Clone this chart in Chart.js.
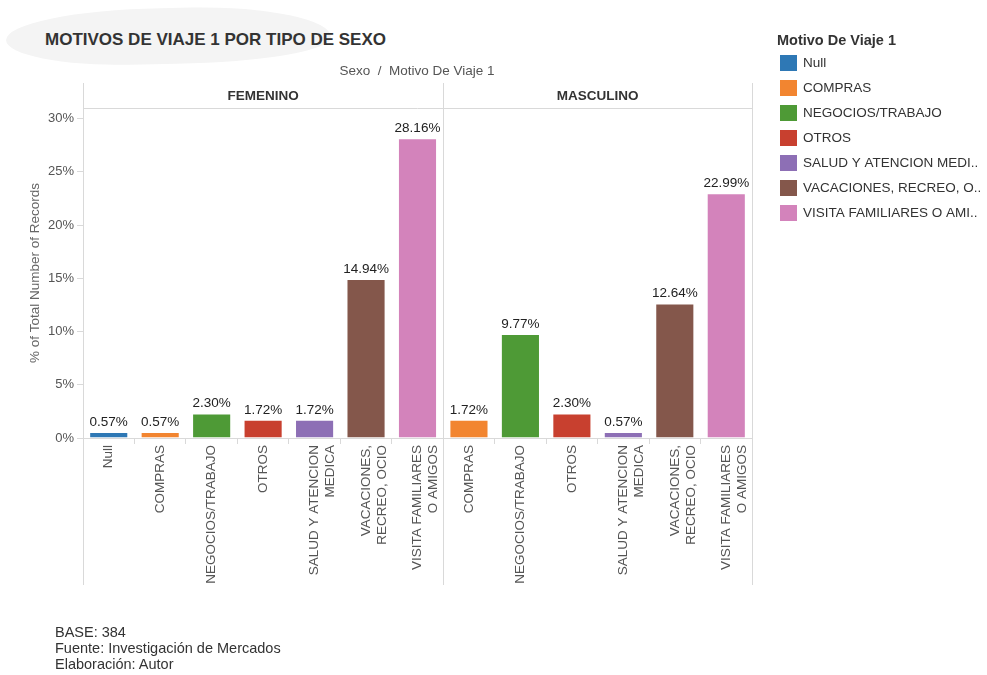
<!DOCTYPE html>
<html>
<head>
<meta charset="utf-8">
<script src="https://cdn.jsdelivr.net/npm/chart.js@4/dist/chart.umd.min.js"></script>
<style>
  body { margin: 0; background: #fff; font-family: "Liberation Sans", Arial, sans-serif; }
  #wrap { position: relative; width: 987px; height: 675px; overflow: hidden; }
  #blob { position: absolute; left: 6px; top: 8px; width: 325px; height: 56px; background: #f4f4f4;
          border-radius: 50% 45% 50% 40% / 55% 60% 45% 50%; transform: rotate(-1deg); }
  #title { position: absolute; left: 45px; top: 30px; font-size: 17px; font-weight: bold; color: #333; }
  #foot { position: absolute; left: 55px; top: 624px; font-size: 14.5px; line-height: 16px; color: #333; }
  canvas { position: absolute; left: 0; top: 0; }
</style>
</head>
<body>
<div id="wrap">
  <div id="blob"></div>
  <div id="title">MOTIVOS DE VIAJE 1 POR TIPO DE SEXO</div>
  <canvas id="chart" width="987" height="675"></canvas>
  <div id="foot">BASE: 384<br>Fuente: Investigación de Mercados<br>Elaboración: Autor</div>
</div>
<script>
// data (% of total records)
const sexos = ['FEMENINO', 'MASCULINO'];
const motivos = ['Null', 'COMPRAS', 'NEGOCIOS/TRABAJO', 'OTROS', 'SALUD Y ATENCION MEDICA', 'VACACIONES, RECREO, OCIO', 'VISITA FAMILIARES O AMIGOS'];
const ejeLabels = ['Null', 'COMPRAS', 'NEGOCIOS/TRABAJO', 'OTROS', ['SALUD Y ATENCION', 'MEDICA'], ['VACACIONES,', 'RECREO, OCIO'], ['VISITA FAMILIARES', 'O AMIGOS']];
const legendLabels = ['Null', 'COMPRAS', 'NEGOCIOS/TRABAJO', 'OTROS', 'SALUD Y ATENCION MEDI..', 'VACACIONES, RECREO, O..', 'VISITA FAMILIARES O AMI..'];
const femenino = [0.57, 0.57, 2.30, 1.72, 1.72, 14.94, 28.16];
const masculino = [null, 1.72, 9.77, 2.30, 0.57, 12.64, 22.99];
const colores = ['#2e78b5', '#f28530', '#4e9a36', '#c8402f', '#8d6fb5', '#84574b', '#d383bb'];
const yTicks = [0, 5, 10, 15, 20, 25, 30];

// flatten the two panels into one category axis
const labels = [], values = [], barColors = [], panelOf = [];
[femenino, masculino].forEach((serie, p) => {
    serie.forEach((v, i) => {
        if (v === null) return;
        labels.push(ejeLabels[i]);
        values.push(v);
        barColors.push(colores[i]);
        panelOf.push(p);
    });
});

const lineColor = '#d9d9d9';
const FONT = '"Liberation Sans", Arial, sans-serif';

const decoPlugin = {
    id: 'deco',
    afterDraw(chart) {
        const ctx = chart.ctx;
        const x = chart.scales.x, y = chart.scales.y;
        const area = chart.chartArea;
        const top = 83, head = area.top, bottom = 585;

        // panel boundaries from the category scale
        const bounds = [area.left];
        for (let i = 1; i < panelOf.length; i++) {
            if (panelOf[i] !== panelOf[i - 1]) {
                bounds.push((x.getPixelForValue(i - 1) + x.getPixelForValue(i)) / 2);
            }
        }
        bounds.push(area.right);

        ctx.save();
        ctx.strokeStyle = lineColor;
        ctx.lineWidth = 1;
        bounds.forEach(bx => {
            const px = Math.round(bx) + 0.5;
            ctx.beginPath(); ctx.moveTo(px, top); ctx.lineTo(px, bottom); ctx.stroke();
        });
        ctx.beginPath(); ctx.moveTo(area.left, head + 0.5); ctx.lineTo(area.right, head + 0.5); ctx.stroke();

        // header texts
        ctx.fillStyle = '#555';
        ctx.font = '13.5px ' + FONT;
        ctx.textAlign = 'center';
        ctx.textBaseline = 'middle';
        ctx.fillText('Sexo  /  Motivo De Viaje 1', 417, 71);
        ctx.fillStyle = '#333';
        ctx.font = 'bold 13.5px ' + FONT;
        sexos.forEach((s, i) => {
            ctx.fillText(s, (bounds[i] + bounds[i + 1]) / 2, (top + head) / 2 + 1);
        });

        // value labels
        ctx.font = '13.5px ' + FONT;
        ctx.fillStyle = '#222';
        ctx.textBaseline = 'bottom';
        values.forEach((v, i) => {
            ctx.fillText(v.toFixed(2) + '%', x.getPixelForValue(i), y.getPixelForValue(v) - 3);
        });

        // legend
        ctx.textAlign = 'left';
        ctx.textBaseline = 'middle';
        ctx.fillStyle = '#333';
        ctx.font = 'bold 14.5px ' + FONT;
        ctx.fillText('Motivo De Viaje 1', 777, 41);
        ctx.font = '13.5px ' + FONT;
        legendLabels.forEach((t, i) => {
            const ly = 63 + i * 25;
            ctx.fillStyle = colores[i];
            ctx.fillRect(780, ly - 8, 17, 16);
            ctx.fillStyle = '#333';
            ctx.fillText(t, 803, ly);
        });
        ctx.restore();
    }
};

new Chart(document.getElementById('chart'), {
    type: 'bar',
    data: {
        labels: labels,
        datasets: [{
            data: values,
            backgroundColor: barColors,
            borderColor: 'rgba(255,255,255,0.5)',
            borderWidth: 1,
            barPercentage: 0.76,
            categoryPercentage: 1
        }]
    },
    options: {
        responsive: false,
        devicePixelRatio: 1,
        animation: false,
        layout: { padding: { left: 0, top: 108, right: 235, bottom: 90 } },
        plugins: { legend: { display: false }, tooltip: { enabled: false } },
        scales: {
            x: {
                afterFit: s => { s.height = 147; },
                grid: { offset: true, drawOnChartArea: false, tickLength: 6, color: lineColor },
                border: { display: true, color: lineColor },
                ticks: {
                    autoSkip: false, minRotation: 90, maxRotation: 90, padding: 1,
                    color: '#555', font: { size: 13.5, family: FONT }
                }
            },
            y: {
                min: 0, max: 31,
                afterFit: s => { s.width = 83; },
                afterBuildTicks: s => { s.ticks = yTicks.map(v => ({ value: v })); },
                grid: { drawOnChartArea: false, tickLength: 6, color: lineColor },
                border: { display: true, color: lineColor },
                ticks: {
                    padding: 3, color: '#555',
                    font: { size: 13, family: FONT },
                    callback: v => v + '%'
                },
                title: {
                    display: true, text: '% of Total Number of Records', color: '#666',
                    padding: { top: 27, bottom: 0 },
                    font: { size: 13.5, family: FONT }
                }
            }
        }
    },
    plugins: [decoPlugin]
});
</script>
</body>
</html>
